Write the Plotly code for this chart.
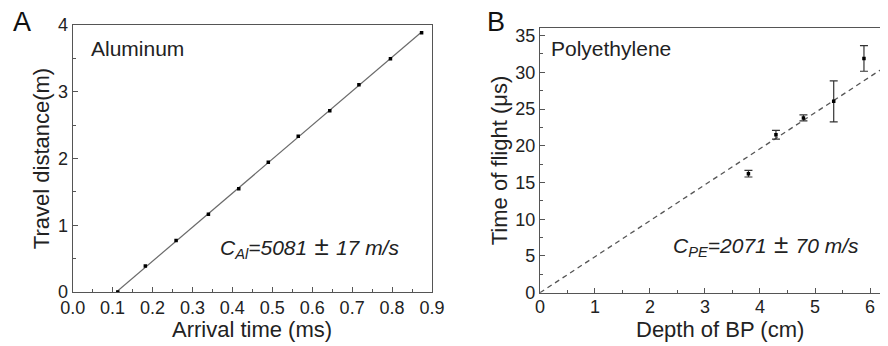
import numpy as np
import plotly.graph_objects as go

# Panel A: Aluminum
al_time_ms = [0.113, 0.182, 0.259, 0.340, 0.416, 0.490, 0.565, 0.644, 0.717, 0.796, 0.874]
al_dist_m = [0.0, 0.39, 0.77, 1.164, 1.548, 1.943, 2.332, 2.717, 3.106, 3.496, 3.885]

# Panel B: Polyethylene
pe_depth_cm = [3.79, 4.29, 4.79, 5.34, 5.89]
pe_tof_us = [16.2, 21.5, 23.8, 26.05, 31.9]
pe_err_us = [0.45, 0.6, 0.4, 2.8, 1.75]
pe_fit_slope_us_per_cm = 4.9  # dashed fit line through origin

FONT = "Liberation Sans, Arial, sans-serif"
W, H = 880, 338  # page body has an 8px margin
fig = go.Figure()

# fit line for A
coef = np.polyfit(al_time_ms, al_dist_m, 1)
x0 = -coef[1] / coef[0]
fx = np.array([x0, max(al_time_ms)])
fig.add_trace(go.Scatter(x=fx, y=np.polyval(coef, fx), mode="lines",
                         line=dict(color="#6a6a6a", width=1.2),
                         xaxis="x", yaxis="y", showlegend=False))
fig.add_trace(go.Scatter(x=al_time_ms, y=al_dist_m, mode="markers",
                         marker=dict(symbol="square", size=3.5, color="black"),
                         xaxis="x", yaxis="y", showlegend=False))

# fit line for B (through origin)
bx = np.array([0.0, 6.5])
fig.add_trace(go.Scatter(x=bx, y=pe_fit_slope_us_per_cm * bx, mode="lines",
                         line=dict(color="#555555", width=1.3, dash="5px,4px"),
                         xaxis="x2", yaxis="y2", showlegend=False))
fig.add_trace(go.Scatter(x=pe_depth_cm, y=pe_tof_us, mode="markers",
                         marker=dict(symbol="square", size=3.5, color="black"),
                         error_y=dict(type="data", array=pe_err_us, visible=True,
                                      color="#333333", thickness=1.2, width=4),
                         xaxis="x2", yaxis="y2", showlegend=False))

axis_common = dict(showline=True, linecolor="#555555", linewidth=1.3,
                   showgrid=False, zeroline=False, ticks="inside", ticklen=5,
                   tickcolor="#555555", tickwidth=1, automargin=False,
                   tickfont=dict(family=FONT, size=18, color="#222222"),
                   title_font=dict(family=FONT, size=22, color="#222222"))

fig.update_layout(
    width=W, height=H,
    margin=dict(l=0, r=0, t=0, b=0),
    paper_bgcolor="white", plot_bgcolor="white",
    xaxis=dict(axis_common, domain=[0.0735, 0.4818], range=[0, 0.9], dtick=0.1,
               tickformat=".1f", mirror=True, anchor="y", ticklabelstandoff=-1,
               minor=dict(ticks="inside", ticklen=3, dtick=0.05, tickcolor="#555555")),
    yaxis=dict(axis_common, domain=[0.1598, 0.9497], range=[0, 4], dtick=1,
               mirror=True, anchor="x",
               minor=dict(ticks="inside", ticklen=3, dtick=0.5, tickcolor="#555555"),
               title=dict(text="Travel distance(m)", standoff=2)),
    xaxis2=dict(axis_common, domain=[0.6045, 1.0], range=[0, 6.327], dtick=1,
                mirror=True, anchor="y2", ticklabelstandoff=-2,
                minor=dict(ticks="inside", ticklen=3, dtick=0.5, tickcolor="#555555")),
    yaxis2=dict(axis_common, domain=[0.1577, 0.94], range=[0, 36], dtick=5,
                mirror=False, anchor="x2",
                minor=dict(ticks="inside", ticklen=3, dtick=2.5, tickcolor="#555555"),
                title=dict(text="Time of flight (μs)", standoff=1)),
)

title_font = dict(family=FONT, size=22, color="#222222")
fig.add_annotation(text="Arrival time (ms)", x=0.2773, y=0.048, xref="paper", yref="paper",
                   xanchor="center", yanchor="middle", showarrow=False, font=title_font)
fig.add_annotation(text="Depth of BP (cm)", x=0.809, y=0.048, xref="paper", yref="paper",
                   xanchor="center", yanchor="middle", showarrow=False, font=title_font)

ann_font = dict(family=FONT, size=21, color="#222222")
pm = "<span style='font-size:26px'> ± </span>"
fig.add_annotation(text="A", x=0.003, y=0.96, xref="paper", yref="paper",
                   xanchor="left", yanchor="middle", showarrow=False,
                   font=dict(family=FONT, size=27, color="#111111"))
fig.add_annotation(text="B", x=0.5415, y=0.96, xref="paper", yref="paper",
                   xanchor="left", yanchor="middle", showarrow=False,
                   font=dict(family=FONT, size=27, color="#111111"))
fig.add_annotation(text="Aluminum", x=0.04, y=3.65, xref="x", yref="y",
                   xanchor="left", yanchor="middle", showarrow=False, font=ann_font)
fig.add_annotation(text="Polyethylene", x=0.17, y=33.2, xref="x2", yref="y2",
                   xanchor="left", yanchor="middle", showarrow=False, font=ann_font)
fig.add_annotation(text="<i>C<sub>Al</sub>=5081</i>" + pm + "<i>17 m/s</i>", x=0.365, y=0.68,
                   xref="x", yref="y", xanchor="left", yanchor="middle",
                   showarrow=False, font=ann_font)
fig.add_annotation(text="<i>C<sub>PE</sub>=2071</i>" + pm + "<i>70 m/s</i>", x=2.38, y=6.6,
                   xref="x2", yref="y2", xanchor="left", yanchor="middle",
                   showarrow=False, font=ann_font)

fig.write_html("out.html")
